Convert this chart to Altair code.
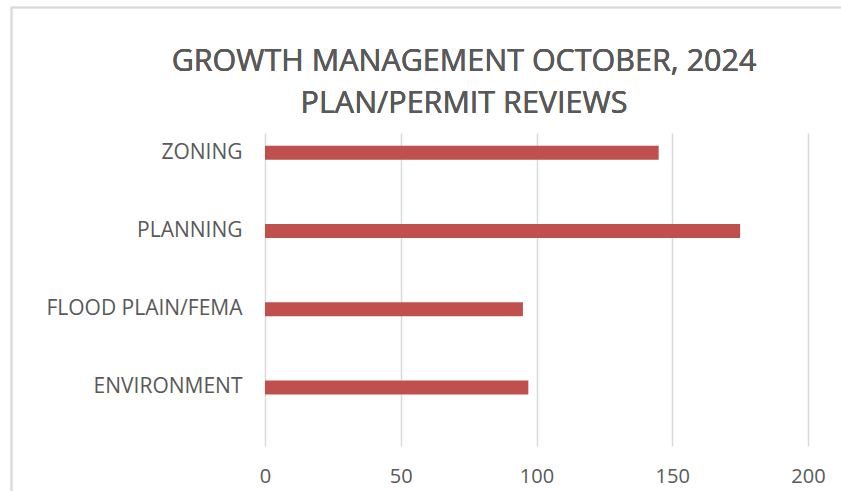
import altair as alt
import pandas as pd

categories = ["ZONING", "PLANNING", "FLOOD PLAIN/FEMA", "ENVIRONMENT"]
reviews = [145, 175, 95, 97]
x_ticks = [0, 50, 100, 150, 200]
title_lines = ["GROWTH MANAGEMENT OCTOBER, 2024", "PLAN/PERMIT REVIEWS"]

df = pd.DataFrame({"category": categories, "reviews": reviews})

FONT = "Open Sans"
TXT = "#595959"
GRID = "#d9d9d9"

bars = alt.Chart(df).mark_bar(color="#C0504D", height=14, yOffset=-19.5).encode(
    x=alt.X("reviews:Q",
            scale=alt.Scale(domain=[0, 200], nice=False),
            axis=alt.Axis(values=x_ticks, title=None, grid=True, gridColor=GRID,
                          gridWidth=1.5, ticks=False, domain=False,
                          labelFont=FONT, labelFontSize=20, labelColor=TXT,
                          labelPadding=20, labelFlush=False)),
    y=alt.Y("category:N", sort=categories,
            scale=alt.Scale(paddingInner=0, paddingOuter=0),
            axis=alt.Axis(title=None, ticks=False, domain=False, grid=False,
                          labelFont=FONT, labelFontSize=21, labelColor=TXT,
                          labelPadding=23, labelOffset=-19.5, labelLimit=0)),
)

frame = alt.Chart(df).mark_rect(fill=None, fillOpacity=0, stroke=GRID, strokeWidth=1.5).encode(
    x=alt.value(-253.5), x2=alt.value(620), y=alt.value(-125.5), y2=alt.value(420)
)

title = alt.Chart(df).mark_text(
    text=title_lines, font=FONT, fontSize=30.5, color=TXT, align="center",
    baseline="alphabetic", lineHeight=42.3,
).encode(x=alt.value(199), y=alt.value(-62))

chart = alt.layer(frame, title, bars).properties(
    width=543,
    height=313,
    background="white",
    autosize=alt.AutoSizeParams(type="none"),
    padding={"left": 265, "top": 133, "right": 33, "bottom": 45},
).configure_view(stroke="transparent", strokeWidth=0).configure_axis(
    domain=False
)

chart.save("out.html", embed_options={"renderer": "svg", "actions": False})
